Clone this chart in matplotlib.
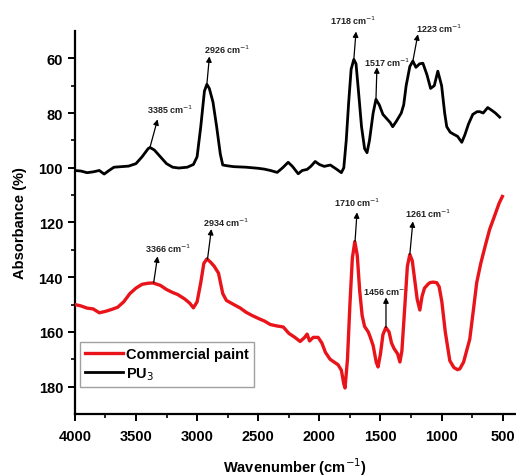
import numpy as np
import matplotlib.pyplot as plt

plt.rcParams['font.family'] = ['Liberation Sans', 'DejaVu Sans']

# PU3 spectrum (wavenumber, absorbance)
pu_x = [4000, 3950, 3900, 3850, 3800, 3760, 3720, 3680, 3620, 3560, 3500, 3450,
        3400, 3385, 3350, 3300, 3250, 3200, 3150, 3080, 3030, 3000, 2970, 2940,
        2920, 2900, 2870, 2840, 2810, 2790, 2750, 2700, 2600, 2500, 2450, 2400,
        2345, 2300, 2255, 2220, 2173, 2140, 2100, 2070, 2034, 2000, 1960, 1910,
        1860, 1820, 1800, 1780, 1760, 1740, 1718, 1700, 1680, 1655, 1630, 1610,
        1590, 1560, 1537, 1510, 1480, 1450, 1420, 1400, 1370, 1330, 1310, 1290,
        1260, 1235, 1210, 1180, 1153, 1120, 1090, 1060, 1031, 1000, 975, 958,
        930, 900, 870, 835, 810, 780, 745, 710, 688, 660, 623, 590, 560, 525]
pu_y = [101, 101.2, 101.8, 101.5, 101.0, 102.3, 101.0, 99.8, 99.6, 99.4, 98.5, 96,
        93, 92.6, 93.5, 96, 98.5, 99.8, 100.1, 99.8, 98.8, 96, 85, 72,
        69.5, 71, 76, 85, 95, 99, 99.3, 99.6, 99.8, 100.2, 100.5, 101,
        101.7, 100, 98, 99.5, 102.2, 101, 100.6, 99.5, 97.7, 98.8, 99.5, 99,
        100.5, 101.8, 100, 90, 76, 64, 60.4, 62, 72, 85, 93, 94.5,
        90, 80, 75, 77, 80.5, 82, 83.5, 85, 83, 80, 77, 70,
        63, 61, 63.3, 62, 61.8, 66, 71, 70, 64.7, 70, 80, 85,
        87, 87.8, 88.5, 90.7, 88, 84, 80.5, 79.5, 79.5, 80, 78, 79, 80, 81.5]

# Commercial paint spectrum
cp_x = [4000, 3950, 3900, 3850, 3800, 3750, 3700, 3650, 3600, 3550, 3500, 3450,
        3400, 3360, 3300, 3250, 3200, 3160, 3100, 3060, 3030, 3000, 2970, 2945,
        2920, 2890, 2860, 2825, 2790, 2760, 2700, 2646, 2600, 2550, 2483, 2450,
        2401, 2350, 2295, 2250, 2200, 2157, 2120, 2100, 2080, 2050, 2010, 1980,
        1950, 1912, 1880, 1847, 1820, 1800, 1790, 1770, 1750, 1730, 1710, 1690,
        1670, 1650, 1630, 1600, 1586, 1560, 1535, 1520, 1500, 1480, 1456, 1430,
        1410, 1390, 1360, 1341, 1325, 1300, 1280, 1260, 1240, 1220, 1200, 1178,
        1160, 1140, 1110, 1096, 1070, 1040, 1020, 998, 970, 933, 900, 870,
        851, 820, 790, 770, 740, 713, 680, 640, 607, 570, 530, 503]
cp_y = [150, 150.5, 151.3, 151.6, 153, 152.5, 151.8, 151, 149, 146, 144, 142.6,
        142.2, 142.1, 143, 144.5, 145.6, 146.3, 148, 149.5, 151.2, 149, 142, 135,
        133.3, 134.5, 136, 138.5, 146, 148.5, 150, 151.3, 152.8, 154, 155.4, 156,
        157.3, 157.8, 158.2, 160.5, 162, 163.5, 162, 160.8, 163.3, 162, 162, 164,
        167.5, 170, 171, 172, 174, 179, 180.5, 170, 150, 133, 127, 132,
        145, 154, 158, 160, 161.6, 165, 171, 172.8, 168, 161, 158.4, 160,
        164, 166, 168, 171, 167, 150, 136, 131.7, 134, 141, 148, 152,
        147, 144, 142.5, 142, 141.8, 142, 143.5, 149, 160, 170.5, 173, 173.8,
        173.5, 171, 166, 162.7, 152, 142, 135, 128, 122.5, 118, 113, 110.5]

# peak labels: text, peak position, arrow tip, text centre
pu_labels = ['3385 cm$^{-1}$', '2926 cm$^{-1}$', '1718 cm$^{-1}$', '1517 cm$^{-1}$', '1223 cm$^{-1}$']
pu_peaks = [(3385, 92.5), (2920, 69.5), (1718, 60.4), (1537, 75), (1235, 61)]
pu_tips = [(3323, 82.3), (2899, 59.3), (1700, 50.2), (1529, 63.3), (1194, 51.2)]
pu_text = [(3217, 78.6), (2752, 56.7), (1724, 45.9), (1447, 61.1), (1023, 49)]

cp_labels = ['3366 cm$^{-1}$', '2934 cm$^{-1}$', '1710 cm$^{-1}$', '1456 cm$^{-1}$', '1261 cm$^{-1}$']
cp_peaks = [(3355, 142), (2915, 133.5), (1708, 126.9), (1455, 158.4), (1260, 131.7)]
cp_tips = [(3323, 132.4), (2883, 122.4), (1692, 116.3), (1455, 147.4), (1235, 119.6)]
cp_text = [(3233, 129.1), (2760, 119.6), (1692, 112.3), (1455, 144.8), (1113, 116.3)]

fig = plt.figure(figsize=(5.16, 4.77), dpi=100)
ax = fig.add_axes([0.145, 0.13, 0.853, 0.803])

ax.plot(cp_x, cp_y, color='#e8141a', lw=2.4, label='Commercial paint', zorder=3)
ax.plot(pu_x, pu_y, color='black', lw=2.0, label='PU$_3$', zorder=3)

for labels, peaks, tips, texts in [(pu_labels, pu_peaks, pu_tips, pu_text),
                                   (cp_labels, cp_peaks, cp_tips, cp_text)]:
    for lab, pk, tp, tx in zip(labels, peaks, tips, texts):
        ax.annotate('', xy=tp, xytext=pk, annotation_clip=False,
                    arrowprops=dict(arrowstyle='-|>', color='black', lw=0.9,
                                    mutation_scale=8, shrinkA=0, shrinkB=0))
        ax.text(tx[0], tx[1], lab, ha='center', va='center', fontsize=6.5,
                fontweight='bold', color='#222222', clip_on=False, zorder=2)

ax.set_xlim(4000, 400)
ax.set_ylim(190, 50)
ax.set_xticks([4000, 3500, 3000, 2500, 2000, 1500, 1000, 500])
ax.set_xticks(np.arange(3750, 400, -500), minor=True)
ax.set_yticks([60, 80, 100, 120, 140, 160, 180])
ax.set_yticks(np.arange(70, 190, 20), minor=True)

for s in ['top', 'right']:
    ax.spines[s].set_visible(False)
for s in ['left', 'bottom']:
    ax.spines[s].set_linewidth(1.6)
ax.tick_params(which='major', direction='out', length=5, width=1.4, labelsize=10.5)
ax.tick_params(axis='x', which='major', pad=6)
ax.tick_params(which='minor', direction='out', length=3, width=1.2)
for t in ax.get_xticklabels() + ax.get_yticklabels():
    t.set_fontweight('bold')

ax.set_xlabel('Wavenumber (cm$^{-1}$)', fontsize=10.5, fontweight='bold', labelpad=9)
ax.set_ylabel('Absorbance (%)', fontsize=10.5, fontweight='bold', labelpad=8)

leg = ax.legend(loc='lower left', bbox_to_anchor=(0.012, 0.07),
                prop={'weight': 'bold', 'size': 10.5}, fancybox=False,
                edgecolor='#888888', handlelength=2.6, borderpad=0.35,
                labelspacing=0.3, handletextpad=0.2, borderaxespad=0)
leg.get_frame().set_linewidth(1.0)

fig.savefig('out.png', dpi=100)
